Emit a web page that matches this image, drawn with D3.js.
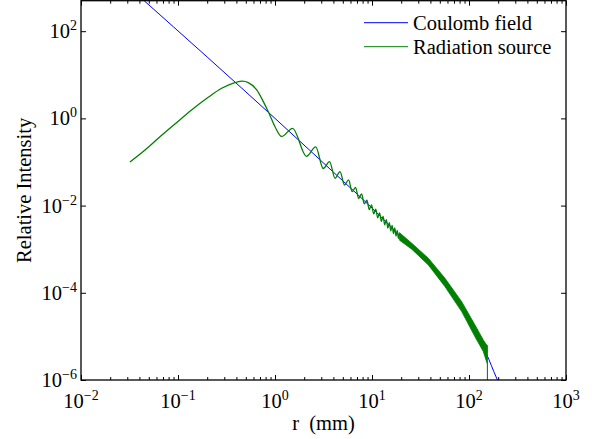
<!DOCTYPE html>
<html>
<head>
<meta charset="utf-8">
<script src="https://cdn.jsdelivr.net/npm/d3@7"></script>
<style>
  body { margin: 0; background: #fff; }
  svg { display: block; }
  text { font-family: "Liberation Serif", "Times New Roman", serif; fill: #000; }
</style>
</head>
<body>
<div id="chart"></div>
<script>
// Coulomb field (blue)
const coulombR = [0.04, 1, 5, 10, 20, 40, 70, 100, 130, 160, 180, 200];
const coulombI = [625, 1.0, 0.0369, 0.0088, 0.0019, 4.12e-4, 8.0e-5, 2.25e-5, 7.83e-6, 3.0e-6, 1.57e-6, 9.1e-7];

// Radiation source (green), resolved part
const sourceR = [0.032, 0.0457, 0.0626, 0.093, 0.138, 0.205, 0.282, 0.387, 0.462, 0.53, 0.648, 0.758, 0.867, 1.0,
  1.17, 1.52, 2.11, 2.63, 3.14, 3.65, 4.16, 4.68, 5.21, 5.73, 6.25, 6.76, 7.28, 7.81, 8.33, 8.86,
  9.37, 9.89, 10.41, 10.93, 11.45, 11.97, 12.49, 13.01, 13.53, 14.05, 14.57, 15.09, 15.61, 16.13,
  16.65, 17.17, 17.69, 18.21, 18.73, 19.25];
const sourceI = [0.10, 0.188, 0.35, 0.744, 1.56, 3.05, 4.90, 6.59, 7.13, 6.59, 4.48, 2.42, 1.31, 0.645,
  0.385, 0.593, 0.135, 0.221, 0.0709, 0.1016, 0.0423, 0.0599, 0.0297, 0.0387, 0.0208, 0.0263, 0.0147, 0.0185, 0.0109, 0.0134,
  0.00805, 0.01035, 0.00644, 0.00831, 0.00522, 0.0068, 0.00431, 0.00566, 0.00361, 0.00477, 0.00306, 0.00407, 0.00263, 0.00352,
  0.00228, 0.00306, 0.00199, 0.00269, 0.00176, 0.00238];

// Radiation source, dense oscillation band (upper / lower envelope)
const bandR    = [19.25, 25.7, 38.1, 56.6, 84.1, 115.3, 140.4, 152, 154.6, 155.1];
const bandHigh = [2.38e-3, 1.37e-3, 6.2e-4, 2.15e-4, 6.25e-5, 1.83e-5, 8.3e-6, 6.35e-6, 6.2e-6, 6.2e-6];
const bandLow  = [1.6e-3, 1.0e-3, 4.35e-4, 1.38e-4, 3.7e-5, 9.8e-6, 4.5e-6, 2.6e-6, 2.3e-6, 1e-8];

const xMajor = [1e-2, 1e-1, 1e0, 1e1, 1e2, 1e3];
const xTickExp = ["\u22122", "\u22121", "0", "1", "2", "3"];
const yMajor = [1e-6, 1e-4, 1e-2, 1e0, 1e2];
const yTickExp = ["\u22126", "\u22124", "\u22122", "0", "2"];

const seriesNames = ["Coulomb field", "Radiation source"];
const seriesColors = ["#0000ff", "#008000"];

(() => {
    const width = 594, height = 439;
    const margin = { top: 0.7, right: 28, bottom: 59, left: 81 };
    const fontSize = "20.5px", expSize = "14px";

    const x = d3.scaleLog().domain([1e-2, 1e3]).range([margin.left, width - margin.right]);
    const y = d3.scaleLog().domain([1e-6, 500]).range([height - margin.bottom, margin.top]);

    const svg = d3.select("#chart").append("svg")
        .attr("width", width)
        .attr("height", height);

    svg.append("clipPath").attr("id", "plot-clip")
        .append("rect")
        .attr("x", x.range()[0]).attr("y", y.range()[1])
        .attr("width", x.range()[1] - x.range()[0])
        .attr("height", y.range()[0] - y.range()[1]);

    const plot = svg.append("g").attr("clip-path", "url(#plot-clip)");

    const line = d3.line()
        .x(d => x(d[0]))
        .y(d => y(d[1]))
        .curve(d3.curveMonotoneX);

    plot.append("path")
        .datum(d3.zip(coulombR, coulombI))
        .attr("d", line)
        .attr("fill", "none")
        .attr("stroke", seriesColors[0])
        .attr("stroke-width", 1);

    plot.append("path")
        .datum(d3.zip(sourceR, sourceI))
        .attr("d", line)
        .attr("fill", "none")
        .attr("stroke", seriesColors[1])
        .attr("stroke-width", 1.3);

    const band = bandR.map((r, i) => ({ r: r, hi: bandHigh[i], lo: bandLow[i] }));
    plot.append("path")
        .datum(band)
        .attr("d", d3.area().x(d => x(d.r)).y0(d => y(d.lo)).y1(d => y(d.hi)))
        .attr("fill", seriesColors[1])
        .attr("stroke", seriesColors[1])
        .attr("stroke-width", 0.8)
        .attr("stroke-linejoin", "round");

    // ticks, pointing inward on all four sides
    const minor = x.ticks().filter(v => !xMajor.some(m => Math.abs(m - v) / m < 1e-9));
    const axes = [
        [d3.axisBottom(x).tickValues(xMajor).tickSize(-5), `translate(0,${y.range()[0]})`],
        [d3.axisBottom(x).tickValues(minor).tickSize(-3), `translate(0,${y.range()[0]})`],
        [d3.axisTop(x).tickValues(xMajor).tickSize(-5), `translate(0,${y.range()[1]})`],
        [d3.axisTop(x).tickValues(minor).tickSize(-3), `translate(0,${y.range()[1]})`],
        [d3.axisLeft(y).tickValues(yMajor).tickSize(-5), `translate(${x.range()[0]},0)`],
        [d3.axisRight(y).tickValues(yMajor).tickSize(-5), `translate(${x.range()[1]},0)`]
    ];
    axes.forEach(([ax, tr]) => {
        svg.append("g")
            .attr("transform", tr)
            .call(ax.tickFormat(""))
            .call(g => g.select(".domain").remove())
            .selectAll("line").attr("stroke", "#000").attr("stroke-width", 1);
    });

    svg.append("rect")
        .attr("x", x.range()[0]).attr("y", y.range()[1])
        .attr("width", x.range()[1] - x.range()[0])
        .attr("height", y.range()[0] - y.range()[1])
        .attr("fill", "none")
        .attr("stroke", "#000")
        .attr("stroke-width", 1.3);

    // tick labels 10^n
    const xl = svg.selectAll(".xlab")
        .data(xMajor)
        .enter().append("text")
        .attr("class", "xlab")
        .attr("x", d => x(d))
        .attr("y", 407.5)
        .attr("text-anchor", "middle")
        .style("font-size", fontSize);
    xl.append("tspan").text("10");
    xl.append("tspan").attr("dy", -8).style("font-size", expSize).text((d, i) => xTickExp[i]);

    const yl = svg.selectAll(".ylab")
        .data(yMajor)
        .enter().append("text")
        .attr("class", "ylab")
        .attr("x", 77)
        .attr("y", d => y(d) + 7)
        .attr("text-anchor", "end")
        .style("font-size", fontSize);
    yl.append("tspan").text("10");
    yl.append("tspan").attr("dy", -8).style("font-size", expSize).text((d, i) => yTickExp[i]);

    // axis titles
    svg.append("text")
        .attr("x", (x.range()[0] + x.range()[1]) / 2)
        .attr("y", 429.5)
        .attr("text-anchor", "middle")
        .attr("xml:space", "preserve")
        .style("white-space", "pre")
        .style("font-size", fontSize)
        .text("r  (mm)");

    svg.append("text")
        .attr("transform", `translate(31,${(y.range()[0] + y.range()[1]) / 2}) rotate(-90)`)
        .attr("text-anchor", "middle")
        .style("font-size", fontSize)
        .text("Relative Intensity");

    // legend
    const legend = svg.selectAll(".legend")
        .data(seriesNames)
        .enter().append("g")
        .attr("class", "legend")
        .attr("transform", (d, i) => `translate(364,${22.7 + i * 24})`);
    legend.append("line")
        .attr("x1", 0).attr("x2", 44)
        .attr("stroke", (d, i) => seriesColors[i])
        .attr("stroke-width", 1);
    legend.append("text")
        .attr("x", 49)
        .attr("y", 7)
        .style("font-size", fontSize)
        .text(d => d);
})();
</script>
</body>
</html>
